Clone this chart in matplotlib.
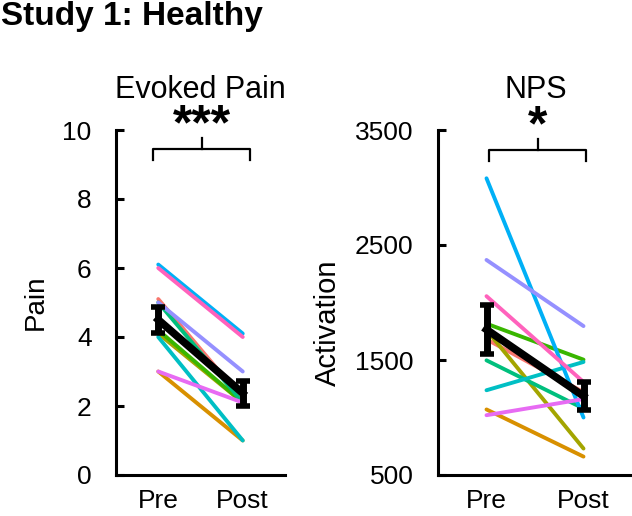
import matplotlib
matplotlib.use('Agg')
import matplotlib.pyplot as plt

plt.rcParams['font.family'] = ['Liberation Sans', 'DejaVu Sans']

# conditions
conds = ['Pre', 'Post']

# subject colours (ggplot hue palette, 10 levels)
colors = ['#F8766D', '#D89000', '#A3A500', '#39B600', '#00BF7D',
          '#00BFC4', '#00B0F6', '#9590FF', '#E76BF3', '#FF62BC']

# evoked pain per subject (pre, post)
pain_pre = [5.1, 3.0, 4.1, 4.2, 5.0, 4.0, 6.1, 5.0, 3.0, 6.0]
pain_post = [2.2, 1.0, 2.1, 2.1, 2.1, 1.0, 4.1, 3.0, 2.1, 4.0]
pain_mean = [4.5, 2.37]
pain_sem = [0.38, 0.36]

# NPS activation per subject (pre, post)
nps_pre = [1680, 1070, 1760, 1816, 1497, 1237, 3080, 2370, 1020, 2055]
nps_post = [1220, 660, 730, 1503, 1078, 1483, 1000, 1795, 1160, 1309]
nps_mean = [1765, 1186]
nps_sem = [210, 122]

W, H = 632, 516
fig = plt.figure(figsize=(W / 100, H / 100), dpi=100)


def panel(rect, pre, post, mean, sem, ylim, yticks, ylabel, labxy, labsize,
          brx, bry, star):
    ax = fig.add_axes(rect)
    x = [0, 1]
    for i in range(len(pre)):
        ax.plot(x, [pre[i], post[i]], color=colors[i], lw=2.8,
                solid_capstyle='round', zorder=2)
    ax.errorbar(x, mean, yerr=sem, color='black', lw=5.5, elinewidth=5,
                capsize=5, capthick=4, zorder=5)
    ax.set_xlim(-0.5, 1.5)
    ax.set_ylim(*ylim)
    ax.set_yticks(yticks)
    ax.set_xticks(x)
    ax.set_xticklabels(conds)
    for s in ['top', 'right']:
        ax.spines[s].set_visible(False)
    for s in ['left', 'bottom']:
        ax.spines[s].set_linewidth(2.2)
    ax.tick_params(axis='y', direction='in', length=6, width=2.2,
                   labelsize=19, pad=17.5)
    ax.tick_params(axis='x', length=0, labelsize=19, pad=10)
    ax.set_ylabel(ylabel, fontsize=labsize)
    ax.yaxis.set_label_coords(*labxy)
    # significance bracket
    lo, mid, hi = bry
    ax.plot([brx[0], brx[0], brx[1], brx[1]], [lo, mid, mid, lo],
            color='black', lw=1.6, clip_on=False)
    cx = (brx[0] + brx[1]) / 2
    ax.plot([cx, cx], [mid, hi], color='black', lw=1.6, clip_on=False)
    ax.annotate(star, xy=(cx, hi), xytext=(0, -8), textcoords='offset points',
                ha='center', va='bottom', fontsize=36, fontweight='bold')
    return ax


panel([116 / W, 41 / H, 169 / W, 345 / H], pain_pre, pain_post,
      pain_mean, pain_sem, (0, 10), [0, 2, 4, 6, 8, 10], 'Pain',
      (-0.396, 0.5), 20, (-0.06, 1.09), (9.13, 9.45, 9.77), '***')
panel([438 / W, 41 / H, 194 / W, 345 / H], nps_pre, nps_post,
      nps_mean, nps_sem, (500, 3500), [500, 1500, 2500, 3500], 'Activation',
      (-0.495, 0.44), 21, (0.03, 1.03), (3232, 3327, 3423), '*')

fig.text(1 / W, 1 - 25 / H, 'Study 1: Healthy', fontsize=24,
         fontweight='bold', ha='left', va='baseline')
fig.text(200 / W, 1 - 98 / H, 'Evoked Pain', fontsize=22, ha='center',
         va='baseline')
fig.text(536 / W, 1 - 98 / H, 'NPS', fontsize=22, ha='center',
         va='baseline')

fig.savefig('out.png', dpi=100)
